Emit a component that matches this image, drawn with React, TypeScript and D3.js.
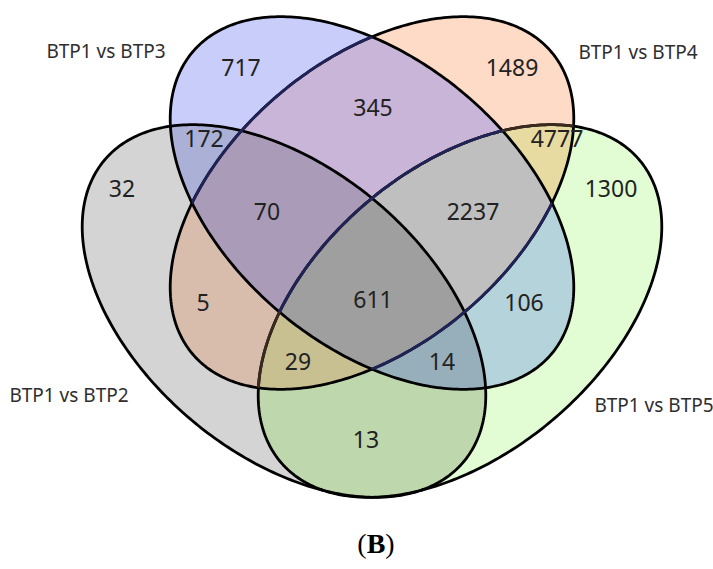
import React from "react";
import * as d3 from "d3";

// Set names, in drawing order of their ellipses.
const setNames = ["BTP1 vs BTP2", "BTP1 vs BTP3", "BTP1 vs BTP4", "BTP1 vs BTP5"];

// Region membership codes (one bit per set, same order as setNames).
const regionKeys = [
  "1000", "0100", "0010", "0001",
  "1100", "0110", "0011", "1001", "1010", "0101",
  "1110", "0111", "1011", "1101",
  "1111",
];

// Number of items that fall in each region.
const regionCounts = [
  32, 717, 1489, 1300,
  172, 345, 4777, 13, 5, 106,
  70, 2237, 29, 14,
  611,
];

// Fill colour of each region.
const regionColors = [
  "#d4d4d4", "#c9cdfa", "#fddbc6", "#e2fdd4",
  "#abb0d6", "#c9b5d8", "#e7dba1", "#bfd7ad", "#d8bdad", "#b5d3db",
  "#aa9cb8", "#bfbfbf", "#c9c092", "#97afba",
  "#9f9f9f",
];

// Text anchor (centre) of each region count.
const regionLabelPos: [number, number][] = [
  [122, 189], [241, 68], [512, 68], [611, 189],
  [204, 139], [373, 108], [557, 139], [366, 440], [203, 303], [524, 303],
  [267, 212], [473, 212], [298, 362], [442, 362],
  [373, 300],
];

// Set name positions (centre x, baseline y).
const setLabelPos: [number, number][] = [
  [69, 402], [106, 58], [638, 59], [654, 412],
];

const WIDTH = 713;
const HEIGHT = 569;

// Ellipse geometry: centre, rotation of the major axis (degrees, clockwise).
const ellipseShapes = [
  { cx: 284, cy: 311, angle: 40 },
  { cx: 372, cy: 203, angle: 40 },
  { cx: 372, cy: 203, angle: -40 },
  { cx: 460, cy: 311, angle: -40 },
];
const RX = 234.5;
const RY = 143;

const ellipsePath = (cx: number, cy: number, angleDeg: number) => {
  const a = (angleDeg * Math.PI) / 180;
  const ts = d3.range(0, 2 * Math.PI, Math.PI / 180);
  const pts: [number, number][] = ts.map((t) => {
    const ex = RX * Math.cos(t);
    const ey = RY * Math.sin(t);
    return [cx + ex * Math.cos(a) - ey * Math.sin(a), cy + ex * Math.sin(a) + ey * Math.cos(a)];
  });
  return d3.line().curve(d3.curveLinearClosed)(pts) as string;
};

export default function App() {
  const paths = ellipseShapes.map((e) => ellipsePath(e.cx, e.cy, e.angle));
  const numFont = "'Noto Sans', 'Open Sans', sans-serif";
  const numSize = 23;

  const regions = regionKeys.map((key, r) => {
    const members = key.split("").map((c, i) => (c === "1" ? i : -1)).filter((i) => i >= 0);
    const inner = (
      <rect x={0} y={0} width={WIDTH} height={HEIGHT} fill={regionColors[r]} mask={`url(#venn-mask-${r})`} />
    );
    return members.reduce<React.ReactNode>(
      (acc, i) => (
        <g clipPath={`url(#venn-clip-${i})`}>{acc}</g>
      ),
      inner
    );
  });

  return (
    <svg
      width={WIDTH}
      height={HEIGHT}
      viewBox={`0 0 ${WIDTH} ${HEIGHT}`}
      style={{ position: "absolute", left: 0, top: 0, background: "#ffffff" }}
    >
      <defs>
        {paths.map((d, i) => (
          <clipPath id={`venn-clip-${i}`} key={`c${i}`}>
            <path d={d} />
          </clipPath>
        ))}
        {regionKeys.map((key, r) => (
          <mask id={`venn-mask-${r}`} key={`m${r}`} maskUnits="userSpaceOnUse" x={0} y={0} width={WIDTH} height={HEIGHT}>
            <rect x={0} y={0} width={WIDTH} height={HEIGHT} fill="white" />
            {key.split("").map((c, i) => (c === "0" ? <path key={i} d={paths[i]} fill="black" /> : null))}
          </mask>
        ))}
      </defs>

      <rect x={0} y={0} width={WIDTH} height={HEIGHT} fill="#ffffff" />

      {/* region fills */}
      {regions.map((node, r) => (
        <g key={`r${r}`}>{node}</g>
      ))}

      {/* outlines */}
      <g fill="none" strokeWidth={2.8}>
        {paths.map((d, i) => (
          <path key={`o${i}`} d={d} stroke="#000000" />
        ))}
        <g clipPath="url(#venn-clip-2)">
          <path d={paths[3]} stroke="#3a2a1e" />
        </g>
        <g clipPath="url(#venn-clip-1)">
          <path d={paths[2]} stroke="#1f2358" />
          <path d={paths[3]} stroke="#1f2358" />
        </g>
      </g>

      {/* region counts */}
      <g fontFamily={numFont} fontSize={numSize} fill="#222222" textAnchor="middle">
        {regionCounts.map((v, r) => (
          <text key={`t${r}`} x={regionLabelPos[r][0]} y={regionLabelPos[r][1] + numSize * 0.357}>
            {v}
          </text>
        ))}
      </g>

      {/* set names */}
      <g fontFamily={numFont} fontSize={19} fill="#2e2e2e" textAnchor="middle">
        {setNames.map((name, i) => (
          <text key={`s${i}`} x={setLabelPos[i][0]} y={setLabelPos[i][1]}>
            {name}
          </text>
        ))}
      </g>

      {/* panel tag */}
      <text x={376} y={553} textAnchor="middle" fontFamily="'Liberation Serif', 'Times New Roman', serif" fontSize={28} fill="#000000">
        (<tspan fontWeight="bold">B</tspan>)
      </text>
    </svg>
  );
}
